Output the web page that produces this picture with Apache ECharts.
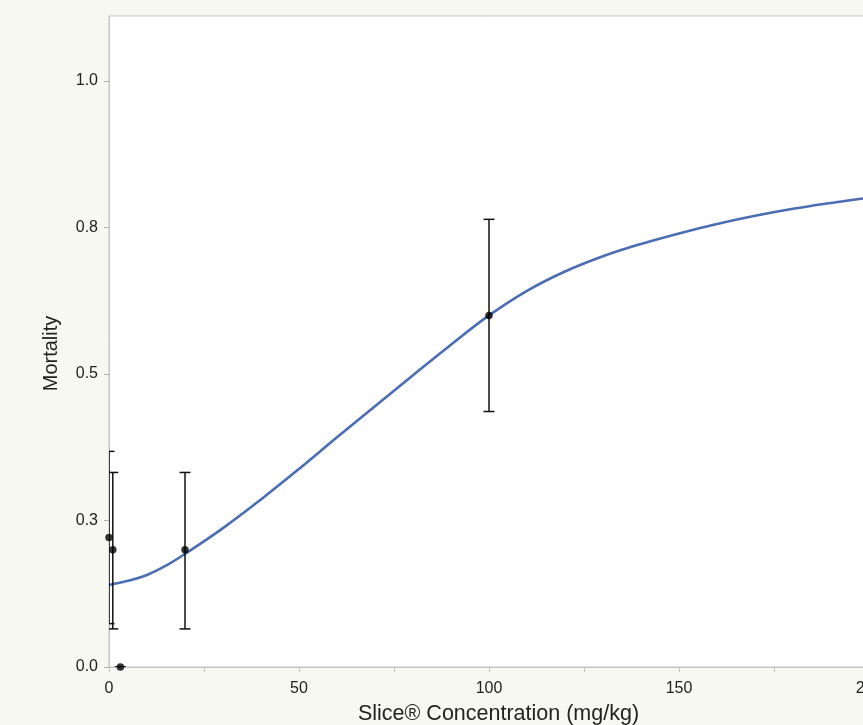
<!DOCTYPE html>
<html>
<head>
<meta charset="utf-8">
<script src="https://cdn.jsdelivr.net/npm/echarts@6/dist/echarts.min.js"></script>
<style>
  html, body { margin: 0; padding: 0; background: #f8f8f3; }
  #chart { width: 863px; height: 725px; }
</style>
</head>
<body>
<div id="chart"></div>
<script>
// observed points with error bars
const doses = [0, 1, 3, 20, 100];
const mortality = [0.221, 0.2, 0, 0.2, 0.6];
const lower = [0.074, 0.065, 0, 0.065, 0.436];
const upper = [0.368, 0.332, 0, 0.332, 0.764];

// fitted curve
const curveX = [0, 5, 10, 15, 20, 30, 40, 50, 60, 70, 80, 90, 100, 110, 120, 130, 140, 150, 160, 170, 180, 190, 200, 210];
const curveY = [0.140, 0.147, 0.157, 0.173, 0.193, 0.237, 0.286, 0.338, 0.392, 0.445, 0.498, 0.550, 0.600, 0.642, 0.675, 0.701, 0.722, 0.740, 0.756, 0.770, 0.782, 0.792, 0.801, 0.809];

// axis ticks
const xTicks = [0, 25, 50, 75, 100, 125, 150, 175, 200];
const xLabels = [0, 50, 100, 150, 200];
const yTicks = [0, 0.25, 0.5, 0.75, 1];

const chart = echarts.init(document.getElementById('chart'));

const axisGray = '#c4c4c4';
const textColor = '#222';

const option = {
    backgroundColor: '#f8f8f3',
    animation: false,
    grid: {
        left: 109,
        top: 16,
        bottom: 58,
        width: 779,
        outerBoundsMode: 'none',
        containLabel: false,
        show: true,
        backgroundColor: '#fff',
        borderColor: axisGray,
        borderWidth: 1
    },
    xAxis: {
        type: 'value',
        min: 0,
        max: 205,
        name: 'Slice® Concentration (mg/kg)',
        nameLocation: 'middle',
        nameGap: 36,
        nameTextStyle: { fontFamily: 'Liberation Sans', fontSize: 21.5, color: textColor },
        axisLine: { show: true, lineStyle: { color: axisGray } },
        axisTick: { show: true, length: 5, customValues: xTicks, lineStyle: { color: axisGray } },
        axisLabel: {
            customValues: xLabels,
            margin: 14,
            fontFamily: 'Liberation Sans',
            fontSize: 16,
            color: textColor
        },
        splitLine: { show: false }
    },
    yAxis: {
        type: 'value',
        min: 0,
        max: 1.111,
        name: 'Mortality',
        nameLocation: 'middle',
        nameGap: 48,
        nameTextStyle: { fontFamily: 'Liberation Sans', fontSize: 20, color: textColor, padding: [0, 24, 0, 0] },
        axisLine: { show: true, lineStyle: { color: axisGray } },
        axisTick: { show: true, length: 5, customValues: yTicks, lineStyle: { color: '#b0b0b0' } },
        axisLabel: {
            customValues: yTicks,
            margin: 11,
            fontFamily: 'Liberation Sans',
            fontSize: 16,
            color: textColor,
            formatter: v => v.toFixed(1)
        },
        splitLine: { show: false }
    },
    series: [
        {
            type: 'line',
            data: curveX.map((x, i) => [x, curveY[i]]),
            smooth: 0.4,
            showSymbol: false,
            lineStyle: { color: '#4a6db3', width: 2.6 },
            z: 2
        },
        {
            type: 'custom',
            data: doses.map((x, i) => [x, lower[i], upper[i]]),
            clip: true,
            renderItem: (params, api) => {
                const lo = api.coord([api.value(0), api.value(1)]);
                const hi = api.coord([api.value(0), api.value(2)]);
                const half = 5.5;
                const style = { stroke: '#111', lineWidth: 1.5 };
                return {
                    type: 'group',
                    children: [
                        { type: 'line', shape: { x1: lo[0], y1: lo[1], x2: hi[0], y2: hi[1] }, style },
                        { type: 'line', shape: { x1: hi[0] - half, y1: hi[1], x2: hi[0] + half, y2: hi[1] }, style },
                        { type: 'line', shape: { x1: lo[0] - half, y1: lo[1], x2: lo[0] + half, y2: lo[1] }, style }
                    ]
                };
            },
            z: 3
        },
        {
            type: 'scatter',
            data: doses.map((x, i) => [x, mortality[i]]),
            symbol: 'circle',
            symbolSize: 7.5,
            itemStyle: { color: '#000' },
            z: 4
        }
    ]
};

chart.setOption(option);
window.addEventListener('resize', () => chart.resize());
</script>
</body>
</html>
